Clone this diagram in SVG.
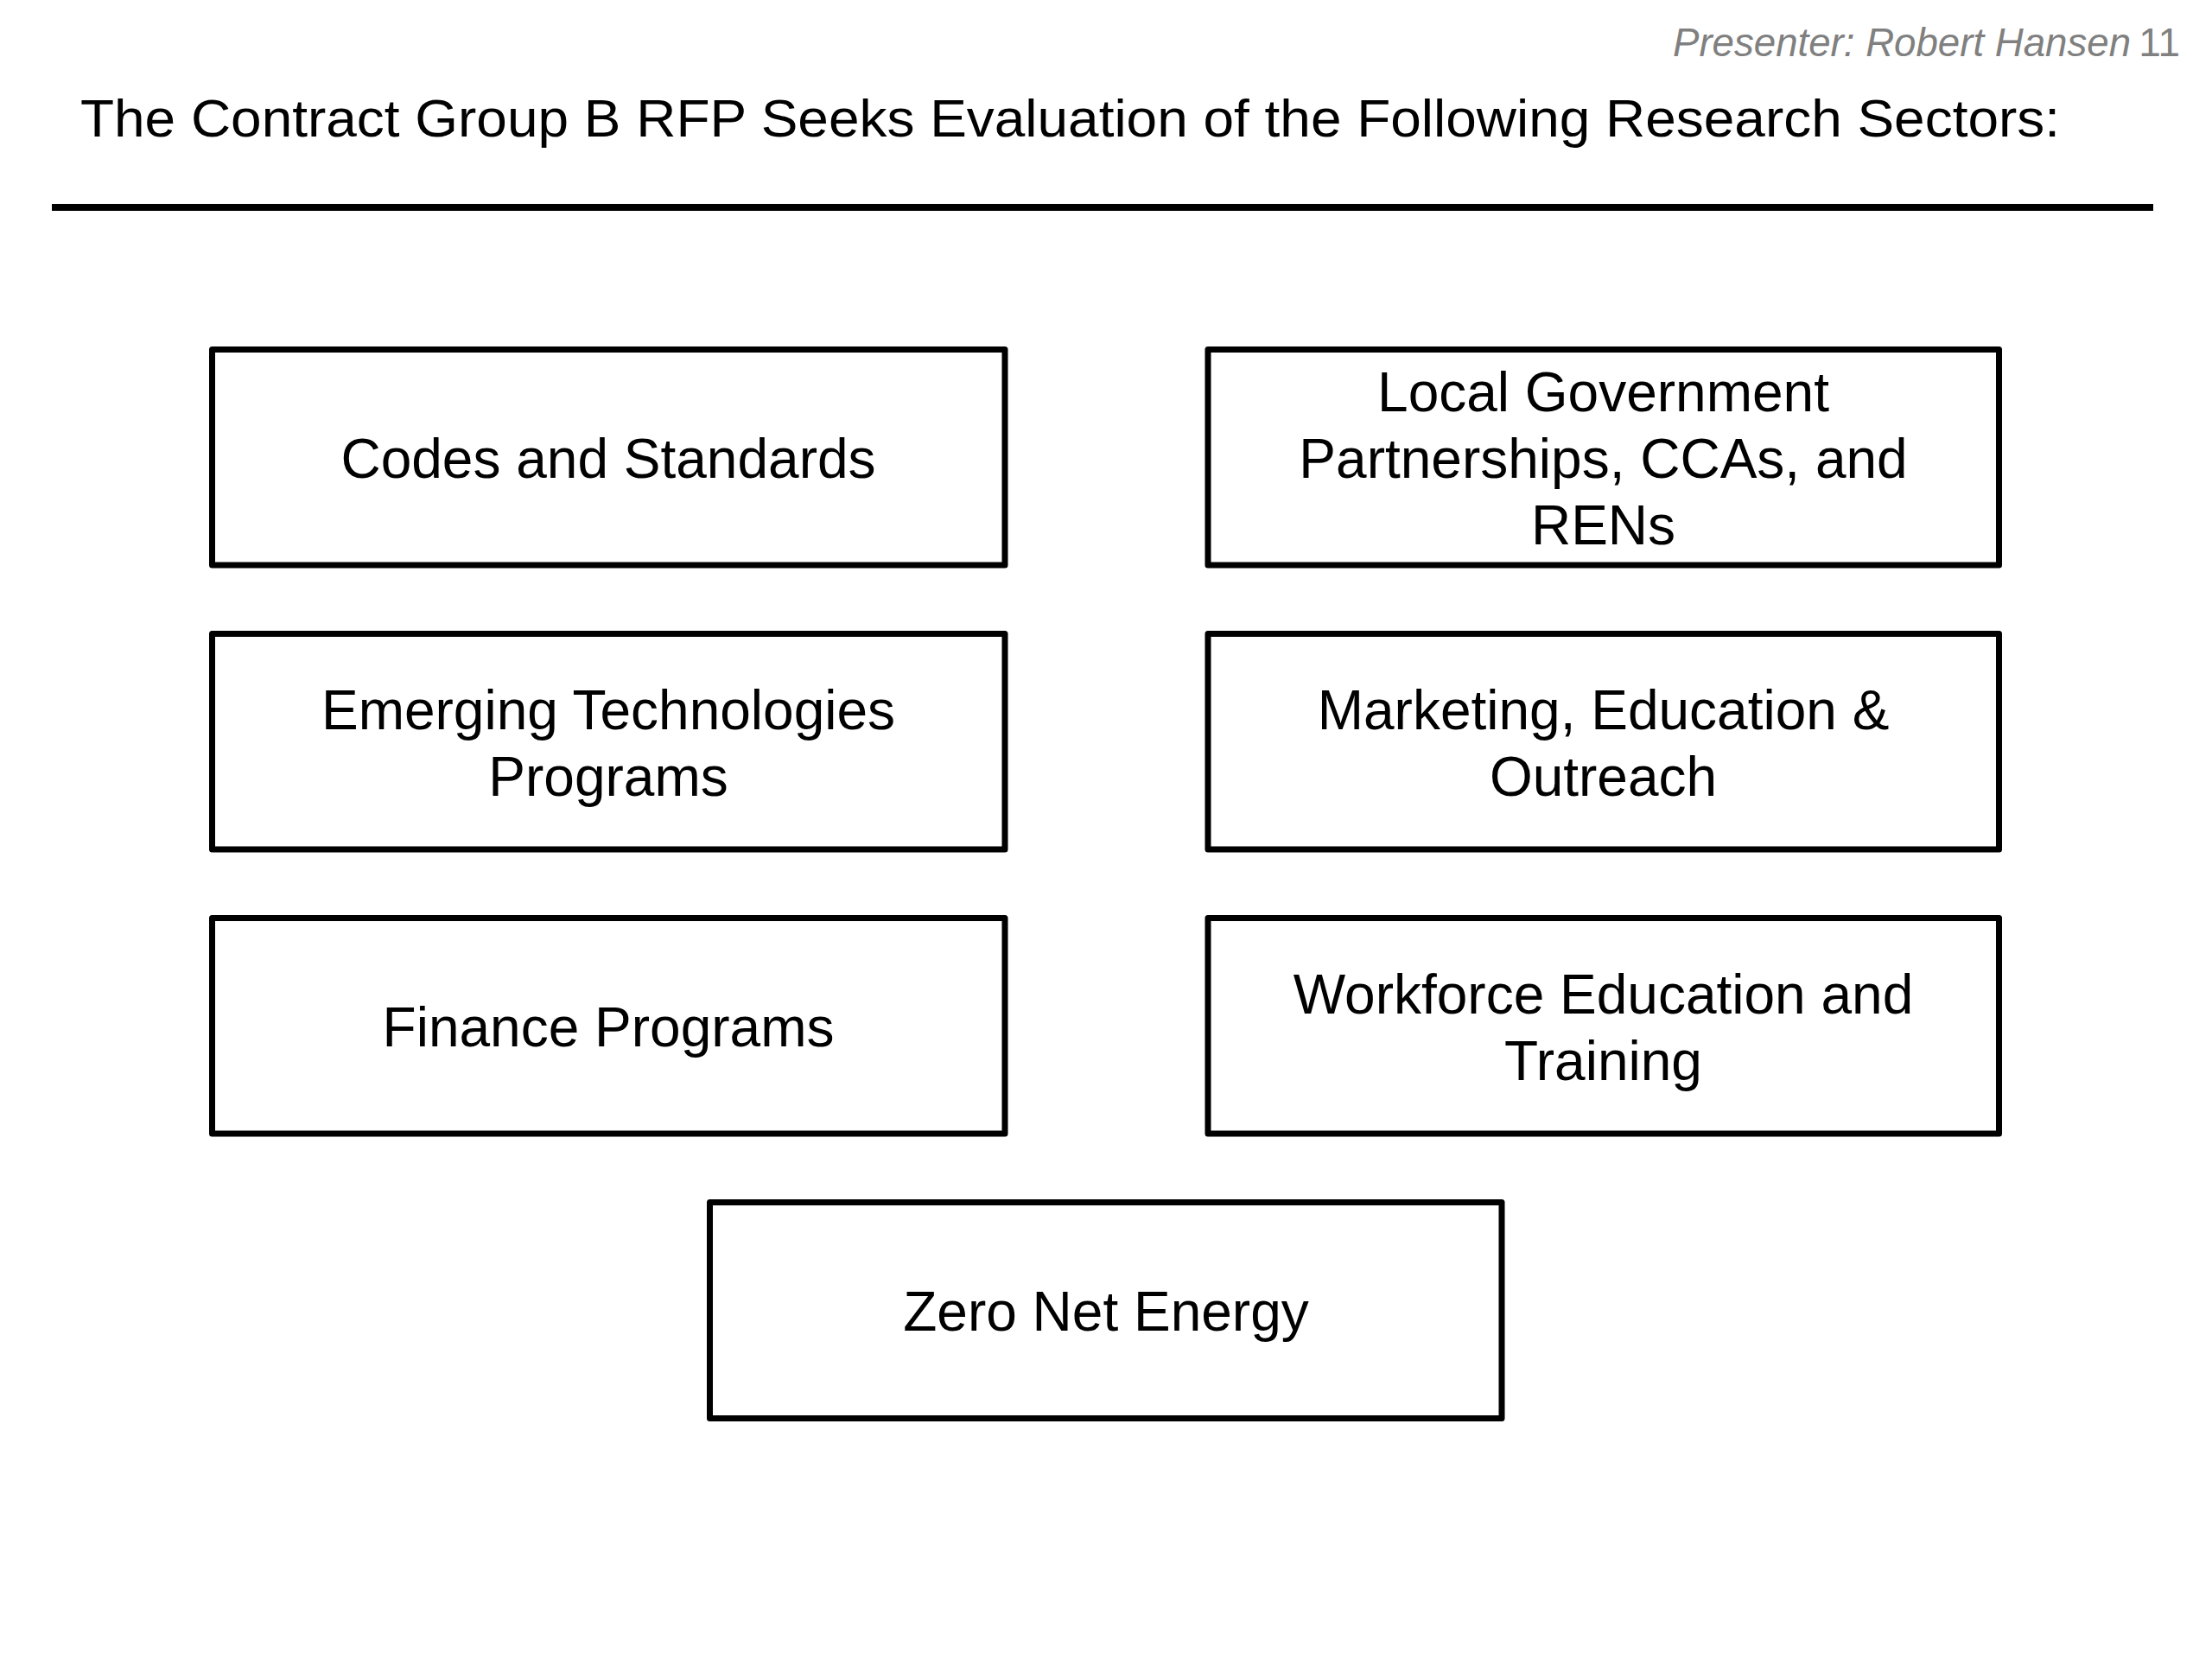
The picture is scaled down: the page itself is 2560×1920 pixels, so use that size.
<svg xmlns="http://www.w3.org/2000/svg" width="2560" height="1920" viewBox="0 0 2560 1920">
<style>
.box{fill:#fff;stroke:#000;stroke-width:7;stroke-linejoin:round}
.lbl{font-family:"Liberation Sans",Arial,sans-serif;font-size:64px;fill:#000;text-anchor:middle}
.title{font-family:"Liberation Sans",Arial,sans-serif;font-size:62px;fill:#000}
.pres{font-family:"Liberation Sans",Arial,sans-serif;font-size:46px;fill:#808080}
</style>
<rect width="2560" height="1920" fill="#fff"/>
<text class="pres" x="1936" y="65" textLength="530" lengthAdjust="spacingAndGlyphs" font-style="italic">Presenter: Robert Hansen</text>
<text class="pres" x="2523" y="65" text-anchor="end" font-size="44">11</text>
<text class="title" x="93" y="158" textLength="2291" lengthAdjust="spacingAndGlyphs">The Contract Group B RFP Seeks Evaluation of the Following Research Sectors:</text>
<line x1="60" y1="240" x2="2492" y2="240" stroke="#000" stroke-width="8"/>
<g id="connectors"></g>
<g id="codes">
<rect class="box" x="245.5" y="404.5" width="917.5" height="249.5"/>
<text class="lbl" x="704" y="553">Codes and Standards</text>
</g>
<g id="local-gov">
<rect class="box" x="1398" y="404.5" width="915.5" height="249.5"/>
<text class="lbl" x="1855.5" y="476">Local Government</text>
<text class="lbl" x="1855.5" y="553">Partnerships, CCAs, and</text>
<text class="lbl" x="1855.5" y="630">RENs</text>
</g>
<g id="emerging">
<rect class="box" x="245.5" y="733.5" width="917.5" height="249.5"/>
<text class="lbl" x="704" y="844">Emerging Technologies</text>
<text class="lbl" x="704" y="921">Programs</text>
</g>
<g id="marketing">
<rect class="box" x="1398" y="733.5" width="915.5" height="249.5"/>
<text class="lbl" x="1855.5" y="844">Marketing, Education &amp;</text>
<text class="lbl" x="1855.5" y="921">Outreach</text>
</g>
<g id="finance">
<rect class="box" x="245.5" y="1062.5" width="917.5" height="249.5"/>
<text class="lbl" x="704" y="1211">Finance Programs</text>
</g>
<g id="workforce">
<rect class="box" x="1398" y="1062.5" width="915.5" height="249.5"/>
<text class="lbl" x="1855.5" y="1173">Workforce Education and</text>
<text class="lbl" x="1855.5" y="1250">Training</text>
</g>
<g id="zne">
<rect class="box" x="821.5" y="1391.5" width="916.5" height="250"/>
<text class="lbl" x="1280" y="1540">Zero Net Energy</text>
</g>
</svg>
